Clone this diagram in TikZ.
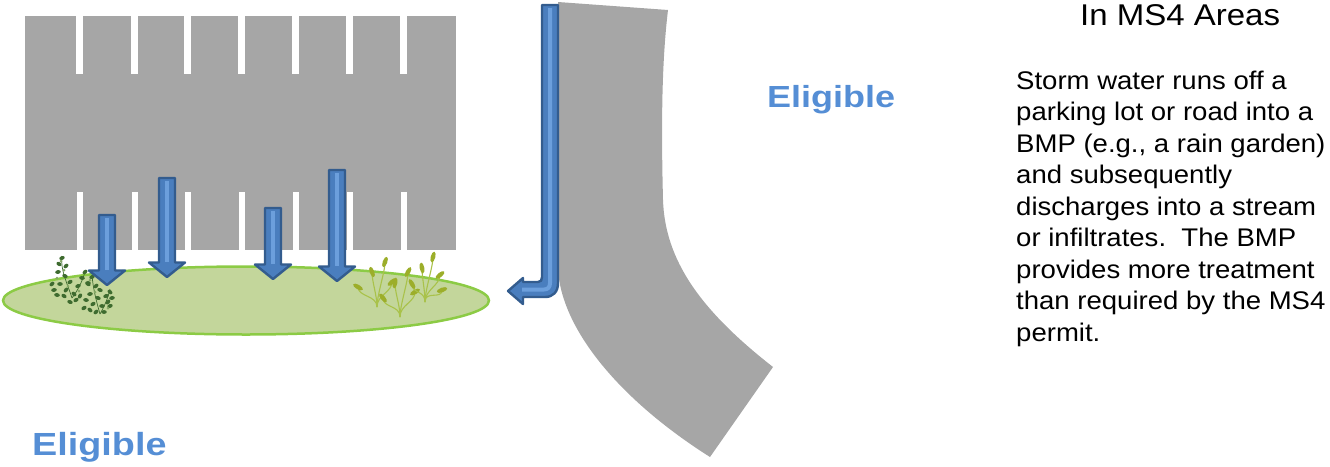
\documentclass[tikz,border=0pt]{standalone}
\usepackage{fontspec}
\setmainfont{Liberation Sans}
\newfontfamily\bodyfont[FakeStretch=1.08]{Liberation Sans}
\newfontfamily\headfont[FakeStretch=1.1]{Liberation Sans}
\newfontfamily\labelfont[FakeStretch=1.18]{Liberation Sans}
\definecolor{paveGray}{HTML}{A6A6A6}
\definecolor{gardenFill}{HTML}{C3D69B}
\definecolor{gardenEdge}{HTML}{8CCB45}
\definecolor{arrowDark}{HTML}{335C8E}
\definecolor{arrowMid}{HTML}{4A7EBE}
\definecolor{arrowLight}{HTML}{6C9FDC}
\definecolor{labelBlue}{HTML}{558ED5}
\definecolor{leafDark}{HTML}{3E6B2F}
\definecolor{leafLight}{HTML}{86A866}
\definecolor{grassStem}{HTML}{A9C24A}
\definecolor{grassHead}{HTML}{9CAE2A}

% a straight run-off arrow: centre x, top of shaft, tip
\newcommand\runoffarrow[3]{%
  \filldraw[runoff] (#1-8,#2) -- (#1+8,#2) -- (#1+8,#3-14.5) -- (#1+18,#3-14.5)
    -- (#1,#3) -- (#1-18,#3-14.5) -- (#1-8,#3-14.5) -- cycle;
  \draw[stripe] (#1,#2+3) -- (#1,#3-15);}

\begin{document}
\begin{tikzpicture}[x=1pt,y=-1pt,
  paved/.style={fill=paveGray},
  slot/.style={fill=white},
  runoff/.style={draw=arrowDark, line width=2.4pt, fill=arrowMid, line join=round},
  stripe/.style={arrowLight, line width=4pt},
  garden/.style={fill=gardenFill, draw=gardenEdge, line width=2.5pt},
  leaf/.style={fill=leafDark},
  paleleaf/.style={fill=leafLight},
  blade/.style={draw=grassStem, line width=1.1pt},
  head/.style={fill=grassHead},
  eligible/.style={anchor=base west, inner sep=0pt, text=labelBlue},
]
\useasboundingbox (0,0) rectangle (1330,466);

% ---- parking lot with stall markings ----
\fill[paved] (25,15.5) rectangle (456,250);
\foreach \sx in {76,131,184,238,292,346,400} {
  \fill[slot] (\sx,15) rectangle (\sx+6.5,74);
  \fill[slot] (\sx+0.5,191.5) rectangle (\sx+7,250.5);
}

% ---- rain garden ----
\filldraw[garden] (246,300.5) ellipse [x radius=243, y radius=34];

% left shrubs
\draw[leafDark, line width=0.7pt] (72,298) .. controls (68,285) and (60,270) .. (62,256);
\draw[leafDark, line width=0.7pt] (72,298) .. controls (78,290) and (82,282) .. (85,272);
\draw[leafDark, line width=0.7pt] (100,314) .. controls (96,300) and (93,288) .. (92,275);
\draw[leafDark, line width=0.7pt] (100,314) .. controls (105,305) and (108,298) .. (110,289);
\foreach \lx/\ly/\lr in {62/258/20,59/264/-30,66/266/40,58/272/10,65/276/-20,70/282/30,
  60/284/0,66/290/50,74/294/-40,78/286/20,82/278/-10,85/272/40,88/283/0,76/300/30,70/302/-20,
  54/290/10,64/296/-30,80/296/60,52/284/40,57/295/-10}
  \fill[leaf] (\lx,\ly) ellipse [x radius=2.8, y radius=1.9, rotate=\lr];
\foreach \lx/\ly/\lr in {92/277/20,88/284/-30,96/286/40,90/294/10,98/298/-20,93/304/30,
  102/306/0,108/302/50,110/292/-40,106/296/20,86/300/-10,96/312/40,104/312/0,84/308/30,
  112/298/10,100/290/-20,90/310/-40,110/306/20}
  \fill[leaf] (\lx,\ly) ellipse [x radius=2.8, y radius=1.9, rotate=\lr];
\foreach \lx/\ly in {61/261,64/270,57/278,90/280,95/292,108/308,79/291,68/286}
  \fill[paleleaf] (\lx,\ly) circle (1.5);

% right grasses
\foreach \bx/\by/\hx/\hy/\hr in {
  377/307/385/262/70, 377/307/372/272/110, 377/307/358/287/150, 377/307/392/282/40,
  400/317/395/283/80, 400/317/408/272/60, 400/317/383/298/130, 400/317/415/292/30,
  425/302/422/268/100, 425/302/433/257/75, 425/302/440/275/40, 425/302/442/290/20,
  425/302/412/284/120}
{
  \draw[blade] (\bx,\by) .. controls (\bx,\by-12) and (\hx,\hy+10) .. (\hx,\hy);
  \fill[head] (\hx,\hy) ellipse [x radius=5.5, y radius=2.3, rotate=\hr];
}

% ---- run-off arrows into the garden ----
\runoffarrow{107}{215}{285}
\runoffarrow{167}{178}{277}
\runoffarrow{273}{208}{279}
\runoffarrow{337}{170}{281}

% ---- curved road ----
\fill[paved] (558,2) -- (558,270) .. controls (562,330) and (620,400) .. (710,457)
  -- (773,367) .. controls (700,310) and (665,260) .. (663,200)
  .. controls (661,120) and (662,60) .. (668,10) -- cycle;

% ---- run-off along the road edge ----
\filldraw[runoff] (542,5) -- (558,5) -- (558,283) .. controls (558,292) and (553,297) .. (545,297)
  -- (523,297) -- (523,304) -- (508,291) -- (523,278) -- (523,282) -- (538,282)
  .. controls (541,282) and (542,280) .. (542,277) -- cycle;
\draw[stripe] (550,8) -- (550,283) .. controls (550,287) and (548,289.5) .. (544,289.5) -- (522,289.5);

% ---- labels ----
\node[eligible, font=\labelfont\bfseries\fontsize{30.5}{36}\selectfont]
  (roadlabel) at (767,107) {Eligible};
\node[eligible, font=\labelfont\bfseries\fontsize{32}{38}\selectfont]
  (lotlabel) at (32,455) {Eligible};
\node[anchor=base west, inner sep=0pt, font=\headfont\fontsize{30}{36}\selectfont]
  (heading) at (1080,25) {In MS4 Areas};
\node[anchor=north west, inner sep=0pt, align=left,
  font=\bodyfont\fontsize{25.5}{31.5}\selectfont] (desc) at (1016,70.5) {%
  Storm water runs off a\\
  parking lot or road into a\\
  BMP (e.g., a rain garden)\\
  and subsequently\\
  discharges into a stream\\
  or infiltrates.\ \ The BMP\\
  provides more treatment\\
  than required by the MS4\\
  permit.};
\end{tikzpicture}
\end{document}
